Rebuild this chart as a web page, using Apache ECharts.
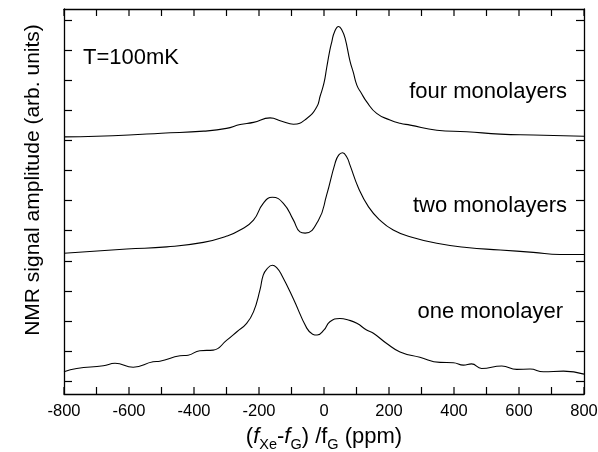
<!DOCTYPE html>
<html>
<head>
<meta charset="utf-8">
<script src="https://cdn.jsdelivr.net/npm/echarts@6/dist/echarts.min.js"></script>
<style>
  html, body { margin: 0; padding: 0; background: #fff; }
  #chart { width: 598px; height: 452px; }
</style>
</head>
<body>
<div id="chart"></div>
<script>
// Xe NMR spectra on graphite at T = 100 mK, vertically offset per coverage.
// Shift axis in ppm; amplitudes in arbitrary units measured from the lower frame edge.

const shiftFour = [-800, -700, -600, -500, -370, -300, -258, -217, -166, -130, -94, -53, -22, -12, 0, 8, 18, 24, 32, 45, 55, 65, 80, 90, 101, 115, 131, 162, 203, 234, 265, 347, 439, 542, 644, 800];
const ampFour   = [8.55, 8.57, 8.61, 8.67, 8.74, 8.83, 8.96, 9.03, 9.18, 9.07, 8.97, 9.16, 9.55, 9.90, 10.34, 10.83, 11.43, 11.71, 12.03, 12.22, 12.10, 11.82, 11.07, 10.70, 10.27, 10.00, 9.72, 9.33, 9.11, 9.00, 8.94, 8.77, 8.72, 8.64, 8.61, 8.57];

const shiftTwo = [-800, -607, -484, -371, -299, -258, -217, -187, -159, -125, -94, -74, -58, -17, 8, 34, 45, 57, 70, 80, 106, 137, 172, 213, 265, 347, 439, 542, 644, 726, 800];
const ampTwo   = [4.68, 4.82, 4.89, 5.04, 5.25, 5.45, 5.78, 6.34, 6.54, 6.34, 5.78, 5.39, 5.35, 5.78, 6.61, 7.67, 7.94, 8.02, 7.88, 7.61, 6.85, 6.22, 5.78, 5.45, 5.23, 5.01, 4.87, 4.79, 4.71, 4.64, 4.64];

const shiftOne = [-800, -761, -679, -643, -587, -526, -505, -443, -418, -382, -341, -299, -268, -238, -217, -197, -187, -176, -159, -145, -130, -94, -53, -35, -21, 0, 18, 49, 75, 101, 131, 152, 193, 234, 295, 357, 398, 429, 454, 485, 547, 593, 634, 675, 737, 800];
const ampOne   = [0.74, 0.85, 0.94, 1.02, 0.89, 1.07, 1.09, 1.27, 1.29, 1.44, 1.46, 1.79, 2.07, 2.35, 2.73, 3.46, 3.95, 4.15, 4.28, 4.19, 3.95, 3.16, 2.19, 1.99, 1.96, 2.13, 2.40, 2.51, 2.46, 2.35, 2.13, 2.02, 1.68, 1.40, 1.22, 1.05, 1.04, 0.96, 1.00, 0.85, 0.93, 0.82, 0.83, 0.74, 0.76, 0.66];

const seriesNames = ['four monolayers', 'two monolayers', 'one monolayer'];
const xLabelValues = [-800, -600, -400, -200, 0, 200, 400, 600, 800];
const xTickValues = [-800, -700, -600, -500, -400, -300, -200, -100, 0, 100, 200, 300, 400, 500, 600, 700, 800];
const yTickValues = [0.43, 1.43, 2.43, 3.43, 4.43, 5.43, 6.43, 7.43, 8.43, 9.43, 10.43, 11.43, 12.43];
const yMax = 12.8;

const FONT = '"Liberation Sans", Arial, sans-serif';
const GRID = { left: 64, right: 14, top: 9, bottom: 58 };
const PLOT_H = 452 - GRID.top - GRID.bottom;
// inward frame ticks along x, 7 px long, expressed in y-axis units
const xTickLen = 7 * yMax / PLOT_H;

const pairs = (xs, ys) => xs.map((x, i) => [x, ys[i]]);

const chart = echarts.init(document.getElementById('chart'), null, { renderer: 'canvas' });

const lineStyle = { color: '#000', width: 1.3 };
const ticks = (len, values) => ({
  show: true, inside: true, length: len, customValues: values,
  lineStyle: { color: '#000', width: 1.2 }
});

const curveSeries = [
  { name: seriesNames[0], data: pairs(shiftFour, ampFour) },
  { name: seriesNames[1], data: pairs(shiftTwo, ampTwo) },
  { name: seriesNames[2], data: pairs(shiftOne, ampOne) }
].map(s => ({
  ...s,
  type: 'line',
  xAxisIndex: 0,
  yAxisIndex: 0,
  showSymbol: false,
  smooth: 0.5,
  lineStyle: { color: '#000', width: 1.1 },
  silent: true
}));

// bottom and top frame ticks, one short segment per tick value
const frameTickSeries = [];
xTickValues.forEach(v => {
  [[[v, 0], [v, xTickLen]], [[v, yMax], [v, yMax - xTickLen]]].forEach(seg => {
    frameTickSeries.push({
      type: 'line', xAxisIndex: 0, yAxisIndex: 0, data: seg,
      showSymbol: false, silent: true, clip: false, z: 5,
      lineStyle: { color: '#000', width: 1.2 }
    });
  });
});

const option = {
  backgroundColor: '#fff',
  animation: false,
  grid: { ...GRID, containLabel: false, outerBoundsMode: 'none' },
  xAxis: [
    {
      type: 'value', min: -800, max: 800, position: 'bottom',
      axisLine: { show: true, onZero: true, onZeroAxisIndex: 0, lineStyle },
      axisTick: { show: false },
      axisLabel: {
        color: '#000', fontFamily: FONT, fontSize: 16.5, margin: 9,
        customValues: xLabelValues
      },
      splitLine: { show: false },
      name: '{p|(}{i|f}{s|Xe}{p|-}{i|f}{s|G}{p|) /f}{s|G}{p| (ppm)}',
      nameLocation: 'middle', nameGap: 28,
      nameTextStyle: {
        rich: {
          p: { fontFamily: FONT, fontSize: 22, color: '#000' },
          i: { fontFamily: FONT, fontSize: 22, color: '#000', fontStyle: 'italic' },
          s: { fontFamily: FONT, fontSize: 14.5, color: '#000', verticalAlign: 'bottom', padding: [15, 0, 0, 0] }
        }
      }
    },
    {
      type: 'value', min: -800, max: 800, position: 'top',
      axisLine: { show: true, onZero: true, onZeroAxisIndex: 1, lineStyle },
      axisTick: { show: false },
      axisLabel: { show: false },
      splitLine: { show: false }
    }
  ],
  yAxis: [
    {
      type: 'value', min: 0, max: yMax, position: 'left',
      axisLine: { show: true, onZero: false, lineStyle },
      axisTick: ticks(8, yTickValues),
      axisLabel: { show: false },
      splitLine: { show: false }
    },
    {
      type: 'value', min: -yMax, max: 0, position: 'right',
      axisLine: { show: true, onZero: false, lineStyle },
      axisTick: ticks(8, yTickValues.map(v => v - yMax)),
      axisLabel: { show: false },
      splitLine: { show: false }
    }
  ],
  series: curveSeries.concat(frameTickSeries),
  graphic: [
    {
      type: 'text', left: 83, top: 47,
      style: { text: 'T=100mK', font: '22px ' + FONT, fill: '#000' }
    },
    {
      type: 'text', x: 567, y: 92,
      style: { text: seriesNames[0], font: '22px ' + FONT, fill: '#000', align: 'right', verticalAlign: 'middle' }
    },
    {
      type: 'text', x: 567, y: 206,
      style: { text: seriesNames[1], font: '22px ' + FONT, fill: '#000', align: 'right', verticalAlign: 'middle' }
    },
    {
      type: 'text', x: 563, y: 312,
      style: { text: seriesNames[2], font: '22px ' + FONT, fill: '#000', align: 'right', verticalAlign: 'middle' }
    },
    {
      type: 'text', x: 33, y: 180, rotation: Math.PI / 2,
      style: { text: 'NMR signal amplitude (arb. units)', font: '21px ' + FONT, fill: '#000', align: 'center', verticalAlign: 'middle' }
    }
  ]
};

chart.setOption(option);
</script>
</body>
</html>
